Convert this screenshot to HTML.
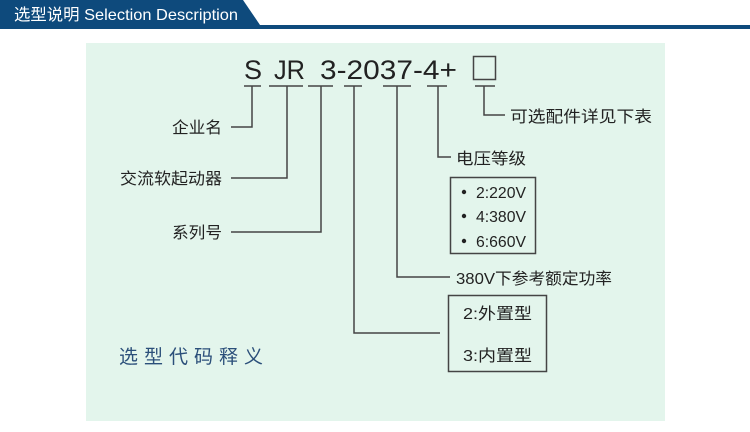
<!DOCTYPE html>
<html><head><meta charset="utf-8"><style>
html,body{margin:0;padding:0;background:#fff;width:750px;height:432px;overflow:hidden}
svg{display:block}
text{font-family:"Liberation Sans","Noto Sans CJK SC",sans-serif}
</style></head><body>
<svg width="750" height="432" viewBox="0 0 750 432">
<polygon points="0,0 243,0 260,25 0,25" fill="#0e4a7c"/>
<rect x="0" y="25" width="750" height="4" fill="#0e4a7c"/>
<text x="14" y="20" font-size="16" fill="#fff" textLength="224" lengthAdjust="spacingAndGlyphs">选型说明 Selection Description</text>
<rect x="86" y="43" width="579" height="378" fill="#e3f5ec"/>
<g fill="#222" font-size="27">
<text x="244" y="79">S</text>
<text x="274" y="79" textLength="31" lengthAdjust="spacingAndGlyphs">JR</text>
<text x="320" y="79" textLength="137" lengthAdjust="spacingAndGlyphs">3-2037-4+</text>
</g>
<rect x="473.5" y="56.5" width="22" height="23" fill="none" stroke="#444" stroke-width="1.5"/>
<g stroke="#444" stroke-width="1.5" fill="none">
<path d="M244 86H261 M252 86V127H231"/>
<path d="M269 86H303 M287 86V178H231"/>
<path d="M308 86H333 M321 86V232H231"/>
<path d="M344 86H362 M354 86V333H440"/>
<path d="M383 86H411 M397 86V277H450"/>
<path d="M427 86H447 M438 86V157H451"/>
<path d="M475 86H495 M484 86V115H505"/>
<rect x="450.5" y="177.5" width="85" height="76"/>
<rect x="448.5" y="295.5" width="98" height="76"/>
</g>
<g fill="#222" font-size="16">
<text x="172" y="133" textLength="50" lengthAdjust="spacingAndGlyphs">企业名</text>
<text x="120" y="184" textLength="102" lengthAdjust="spacingAndGlyphs">交流软起动器</text>
<text x="172" y="238" textLength="50" lengthAdjust="spacingAndGlyphs">系列号</text>
<text x="510" y="122" textLength="142" lengthAdjust="spacingAndGlyphs">可选配件详见下表</text>
<text x="456" y="164" textLength="70" lengthAdjust="spacingAndGlyphs">电压等级</text>
<text x="456" y="284" textLength="156" lengthAdjust="spacingAndGlyphs">380V下参考额定功率</text>
<text x="476" y="198" textLength="50" lengthAdjust="spacingAndGlyphs">2:220V</text>
<text x="476" y="222" textLength="50" lengthAdjust="spacingAndGlyphs">4:380V</text>
<text x="476" y="247" textLength="50" lengthAdjust="spacingAndGlyphs">6:660V</text>
<text x="463" y="319" textLength="69" lengthAdjust="spacingAndGlyphs">2:外置型</text>
<text x="463" y="361" textLength="69" lengthAdjust="spacingAndGlyphs">3:内置型</text>
</g>
<g fill="#222"><circle cx="464" cy="192" r="2.2"/><circle cx="464" cy="216" r="2.2"/><circle cx="464" cy="241" r="2.2"/></g>
<text x="119" y="363" font-size="19" fill="#2b4f7a" textLength="144" lengthAdjust="spacing">选型代码释义</text>
</svg>
</body></html>
